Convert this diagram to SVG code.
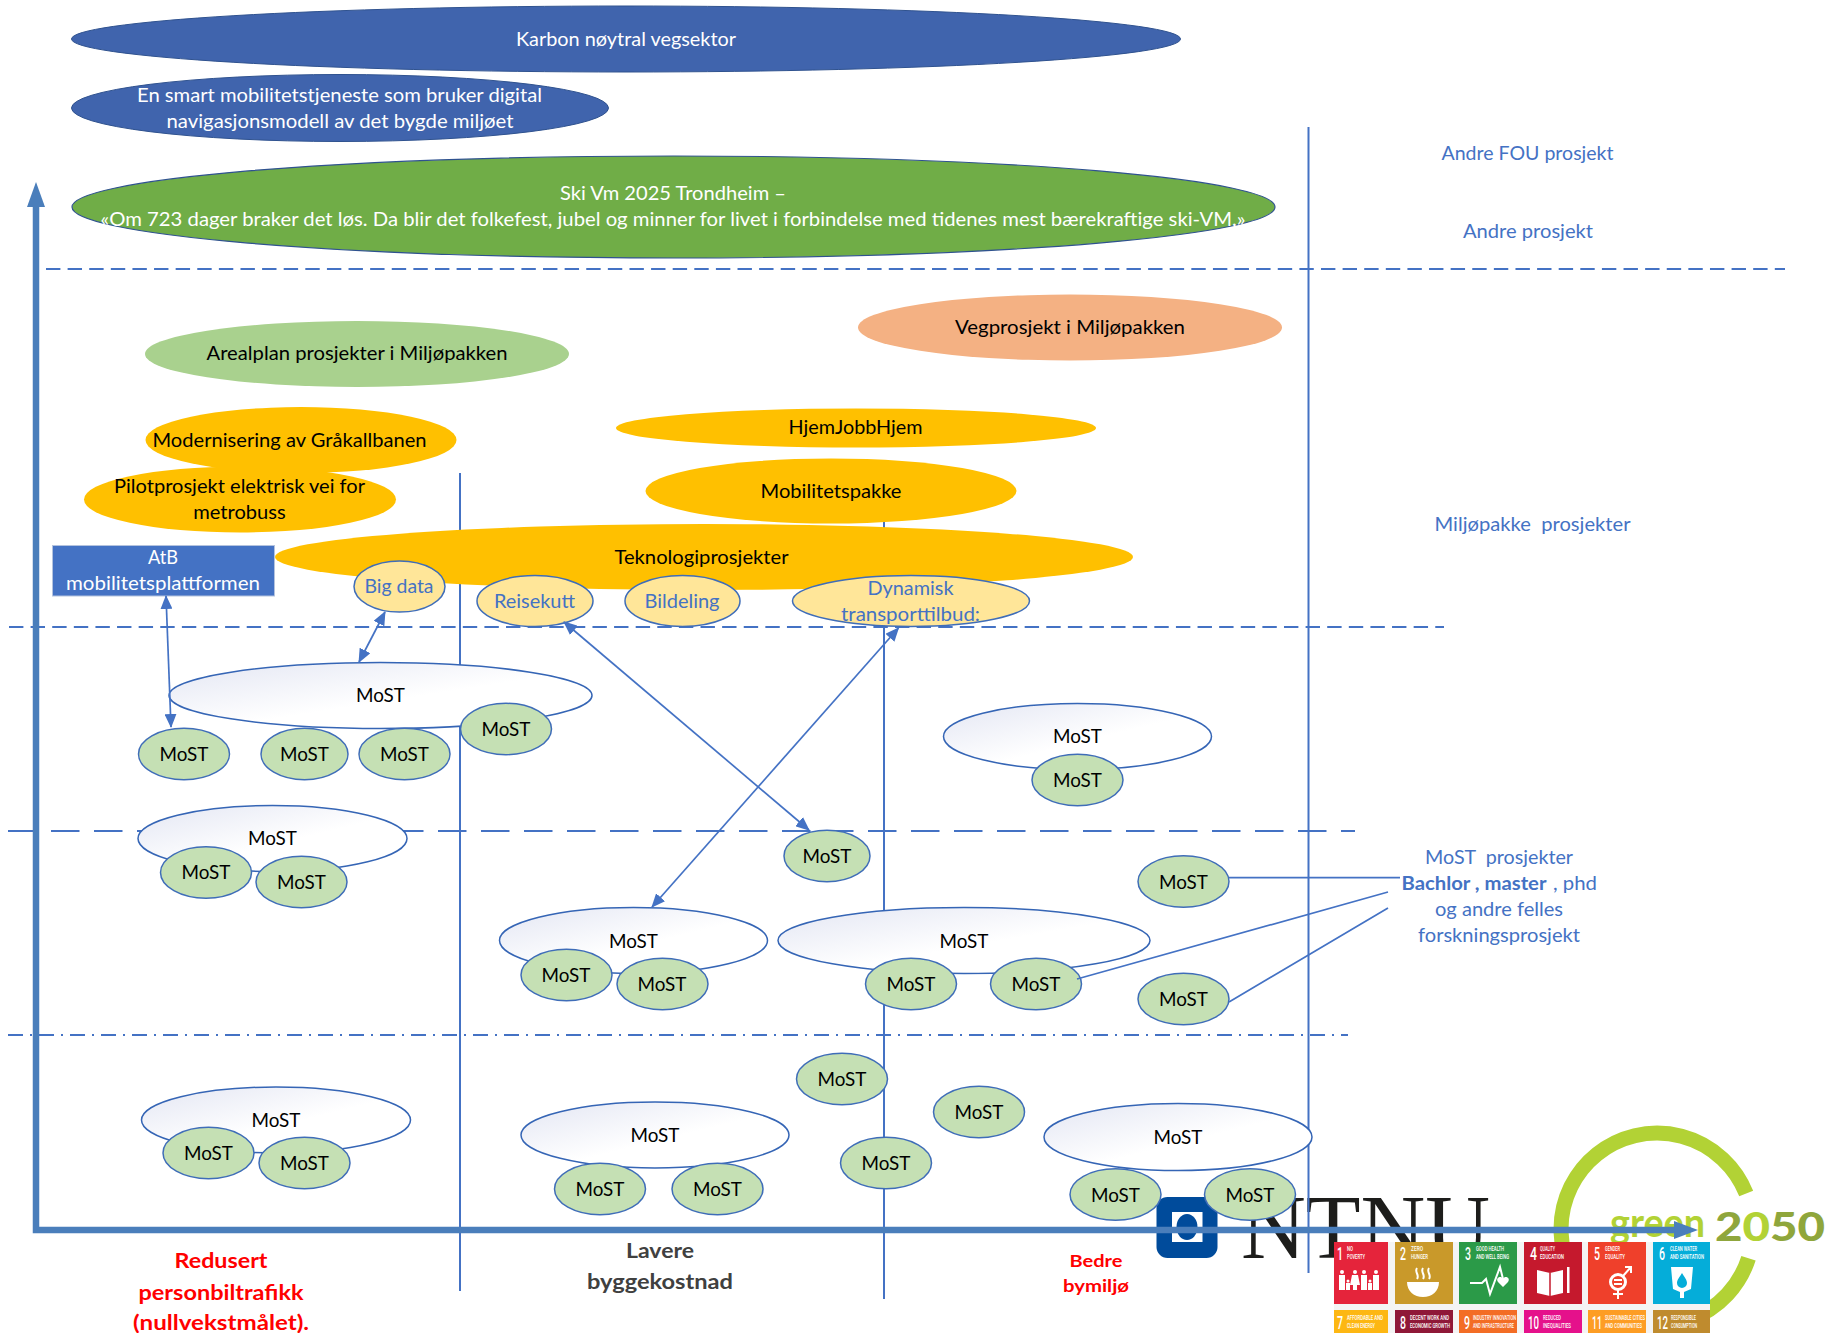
<svg xmlns="http://www.w3.org/2000/svg" width="1838" height="1333" viewBox="0 0 1838 1333">
<style>
text{font-family:Lato,"Noto Sans",sans-serif;font-size:19px;text-anchor:middle;fill:#000;white-space:pre}
.w{fill:#fff}.b{fill:#4472c4}.bb{fill:#4472c4;font-weight:700}
.r{fill:#f00;font-weight:700;font-size:21px}.g{fill:#404040;font-weight:700;font-size:21px}.r2{fill:#f00;font-weight:700;font-size:17.5px}
.grid{fill:none;stroke:#4472c4;stroke-width:2}
.d1{stroke-dasharray:14.4 7.21}.d2{stroke-dasharray:28.5 14.5}.d3{stroke-dasharray:15 7 2 7}
.white{fill:url(#wg);stroke:#3565b5;stroke-width:1.5}
.green{fill:#c5e0b4;stroke:#3f6db8;stroke-width:1.5}
.yel{fill:#ffe699;stroke:#3f6db8;stroke-width:1.5}
.or{fill:#ffc000}
.bl{fill:#4064ad;stroke:#2f528f;stroke-width:1}
.con{fill:none;stroke:#4472c4;stroke-width:1.7}
.two{marker-start:url(#ah);marker-end:url(#ah)}
.axis{fill:none;stroke:#4a7ebb;stroke-width:6.5}
.tn{font-family:Roboto,sans-serif;font-size:18px;fill:#fff;text-anchor:start;font-weight:500}
.tc{font-family:Roboto,sans-serif;font-size:6.5px;fill:#fff;text-anchor:start;font-weight:500}
.ic{fill:#fff}.il{fill:none;stroke:#fff;stroke-width:2}
</style>
<defs>
<linearGradient id="wg" x1="0" y1="0" x2="1" y2="1"><stop offset="0" stop-color="#e3e6f3"/><stop offset=".55" stop-color="#fff"/></linearGradient>
<marker id="ah" viewBox="0 0 14 12" refX="13" refY="6" markerWidth="14" markerHeight="12" markerUnits="userSpaceOnUse" orient="auto-start-reverse"><path d="M0 0L14 6L0 12Z" fill="#4472c4"/></marker>
</defs>
<rect width="1838" height="1333" fill="#fff"/>

<g id="logo-ntnu">
<rect x="1156.5" y="1197" width="61" height="61" rx="11" fill="#004b9b"/>
<rect x="1172" y="1212" width="30.5" height="30" fill="#fff"/>
<ellipse cx="1187" cy="1227" rx="10.5" ry="13" fill="#004b9b"/>
<text x="1241" y="1258" textLength="249" lengthAdjust="spacingAndGlyphs" style="font-family:'Liberation Serif',serif;font-size:92px;text-anchor:start;fill:#1d1d1b">NTNU</text>
</g>
<g id="logo-green2050">
<path d="M1746.2 1193.5A96 96 0 1 0 1748.5 1258.2" fill="none" stroke="#b2d235" stroke-width="15"/>
<text x="1610" y="1237" textLength="95" lengthAdjust="spacingAndGlyphs" style="font-size:40px;text-anchor:start;fill:#b2d235;font-weight:700">green</text>
<text x="1715" y="1241" textLength="110" lengthAdjust="spacingAndGlyphs" style="font-size:40px;text-anchor:start;font-weight:900;fill:#8fa63c">2<tspan fill="#b2d235">0</tspan>5<tspan fill="#8fa63c">0</tspan></text>
</g>
<g id="logo-sdg">
<rect x="1334" y="1242" width="376" height="91" fill="#f4f4f4"/>
<rect x="1334" y="1242" width="54" height="62" fill="#e5243b"/><rect x="1395" y="1242" width="58" height="62" fill="#c9992a"/><rect x="1459" y="1242" width="58" height="62" fill="#2b9a48"/><rect x="1524" y="1242" width="58" height="62" fill="#c5192d"/><rect x="1588" y="1242" width="58" height="62" fill="#ef402b"/><rect x="1653" y="1242" width="57" height="62" fill="#05add9"/>
<rect x="1334" y="1310" width="54" height="23" fill="#fdb713"/><rect x="1395" y="1310" width="58" height="23" fill="#8f1838"/><rect x="1459" y="1310" width="58" height="23" fill="#f36d25"/><rect x="1524" y="1310" width="58" height="23" fill="#e5118b"/><rect x="1588" y="1310" width="58" height="23" fill="#fd9d24"/><rect x="1653" y="1310" width="57" height="23" fill="#bf8b2e"/>
<text class="tn" x="1337" y="1260" textLength="6" lengthAdjust="spacingAndGlyphs">1</text><text class="tc" x="1347" y="1251" textLength="6" lengthAdjust="spacingAndGlyphs">NO</text><text class="tc" x="1347" y="1259" textLength="18" lengthAdjust="spacingAndGlyphs">POVERTY</text>
<text class="tn" x="1400" y="1260" textLength="6" lengthAdjust="spacingAndGlyphs">2</text><text class="tc" x="1411" y="1251" textLength="12" lengthAdjust="spacingAndGlyphs">ZERO</text><text class="tc" x="1411" y="1259" textLength="17" lengthAdjust="spacingAndGlyphs">HUNGER</text>
<text class="tn" x="1465" y="1260" textLength="6" lengthAdjust="spacingAndGlyphs">3</text><text class="tc" x="1476" y="1251" textLength="28" lengthAdjust="spacingAndGlyphs">GOOD HEALTH</text><text class="tc" x="1476" y="1259" textLength="33" lengthAdjust="spacingAndGlyphs">AND WELL BEING</text>
<text class="tn" x="1530" y="1260" textLength="7" lengthAdjust="spacingAndGlyphs">4</text><text class="tc" x="1540" y="1251" textLength="15" lengthAdjust="spacingAndGlyphs">QUALITY</text><text class="tc" x="1540" y="1259" textLength="24" lengthAdjust="spacingAndGlyphs">EDUCATION</text>
<text class="tn" x="1594" y="1260" textLength="6" lengthAdjust="spacingAndGlyphs">5</text><text class="tc" x="1605" y="1251" textLength="15" lengthAdjust="spacingAndGlyphs">GENDER</text><text class="tc" x="1605" y="1259" textLength="20" lengthAdjust="spacingAndGlyphs">EQUALITY</text>
<text class="tn" x="1659" y="1260" textLength="6" lengthAdjust="spacingAndGlyphs">6</text><text class="tc" x="1670" y="1251" textLength="27" lengthAdjust="spacingAndGlyphs">CLEAN WATER</text><text class="tc" x="1670" y="1259" textLength="34" lengthAdjust="spacingAndGlyphs">AND SANITATION</text>
<text class="tn" x="1337" y="1329" textLength="6" lengthAdjust="spacingAndGlyphs">7</text><text class="tc" x="1347" y="1320" textLength="36" lengthAdjust="spacingAndGlyphs">AFFORDABLE AND</text><text class="tc" x="1347" y="1328" textLength="28" lengthAdjust="spacingAndGlyphs">CLEAN ENERGY</text>
<text class="tn" x="1400" y="1329" textLength="6" lengthAdjust="spacingAndGlyphs">8</text><text class="tc" x="1410" y="1320" textLength="39" lengthAdjust="spacingAndGlyphs">DECENT WORK AND</text><text class="tc" x="1410" y="1328" textLength="40" lengthAdjust="spacingAndGlyphs">ECONOMIC GROWTH</text>
<text class="tn" x="1464" y="1329" textLength="6" lengthAdjust="spacingAndGlyphs">9</text><text class="tc" x="1473" y="1320" textLength="43" lengthAdjust="spacingAndGlyphs">INDUSTRY INNOVATION</text><text class="tc" x="1473" y="1328" textLength="41" lengthAdjust="spacingAndGlyphs">AND INFRASTRUCTURE</text>
<text class="tn" x="1528" y="1329" textLength="11" lengthAdjust="spacingAndGlyphs">10</text><text class="tc" x="1543" y="1320" textLength="18" lengthAdjust="spacingAndGlyphs">REDUCED</text><text class="tc" x="1543" y="1328" textLength="28" lengthAdjust="spacingAndGlyphs">INEQUALITIES</text>
<text class="tn" x="1592" y="1329" textLength="10" lengthAdjust="spacingAndGlyphs">11</text><text class="tc" x="1605" y="1320" textLength="40" lengthAdjust="spacingAndGlyphs">SUSTAINABLE CITIES</text><text class="tc" x="1605" y="1328" textLength="37" lengthAdjust="spacingAndGlyphs">AND COMMUNITIES</text>
<text class="tn" x="1657" y="1329" textLength="11" lengthAdjust="spacingAndGlyphs">12</text><text class="tc" x="1671" y="1320" textLength="25" lengthAdjust="spacingAndGlyphs">RESPONSIBLE</text><text class="tc" x="1671" y="1328" textLength="26" lengthAdjust="spacingAndGlyphs">CONSUMPTION</text>
<g class="ic"><circle cx="1342" cy="1272" r="2"/><rect x="1339" y="1275" width="6" height="15"/><circle cx="1348" cy="1281" r="1.5"/><rect x="1346" y="1283" width="4" height="7"/><circle cx="1355" cy="1272" r="2"/><path d="M1352 1275h6l2 10h-3v5h-4v-5h-3z"/><circle cx="1364" cy="1272" r="2"/><rect x="1361" y="1275" width="6" height="15"/><circle cx="1370" cy="1281" r="1.5"/><rect x="1368" y="1283" width="4" height="7"/><circle cx="1376" cy="1272" r="2"/><rect x="1373" y="1275" width="6" height="15"/></g>
<path class="ic" d="M1407 1282h32c0 9-7 15-16 15s-16-6-16-15z"/><path class="il" d="M1417 1268c-3 4 3 7 0 11M1423 1268c-3 4 3 7 0 11M1429 1268c-3 4 3 7 0 11"/>
<path class="il" d="M1470 1283H1482L1486 1279L1490 1294L1500 1267L1504 1283"/><path class="ic" d="M1503 1287l-5-5c-3-4 3-7 5-3c2-4 8-1 5 3z"/>
<path class="ic" d="M1537 1270l13 3l13-3v23l-13 3l-13-3z"/><path d="M1550 1273v23" stroke="#c5192d" stroke-width="1.5"/><rect class="ic" x="1567" y="1267" width="2.5" height="26"/>
<circle cx="1618" cy="1282" r="7.5" fill="none" stroke="#fff" stroke-width="3"/><path class="il" d="M1623 1276L1631 1267M1625 1267h6v6M1618 1290V1299M1613 1294h10"/><rect class="ic" x="1614" y="1279" width="8" height="2"/><rect class="ic" x="1614" y="1283" width="8" height="2"/>
<path class="ic" d="M1671 1267h22l-2 22l-7 3v6h-4v-6l-7-3z"/><path d="M1682 1273c3 5 5 7 5 10a5 5 0 0 1-10 0c0-3 2-5 5-10z" fill="#05add9"/>
</g>

<g id="guides">
<path class="grid" d="M460 473V1291M884 522V1299M1308.5 127V1273"/>
<path class="grid d1" d="M46 269H1785M9 627H1444"/>
<path class="grid d2" d="M8 831H1355"/>
<path class="grid d3" d="M8 1035H1348"/>
</g>

<g id="n-karbon"><ellipse class="bl" cx="626" cy="39" rx="554.5" ry="33"/><text class="w" x="626" y="46" textLength="220" lengthAdjust="spacingAndGlyphs">Karbon nøytral vegsektor</text></g>
<g id="n-smart"><ellipse class="bl" cx="340" cy="108" rx="268.5" ry="33.5"/><text class="w" x="339.5" y="102" textLength="405" lengthAdjust="spacingAndGlyphs">En smart mobilitetstjeneste som bruker digital</text><text class="w" x="340" y="128" textLength="347" lengthAdjust="spacingAndGlyphs">navigasjonsmodell av det bygde miljøet</text></g>
<g id="n-ski"><ellipse cx="673.5" cy="207" rx="601.5" ry="51" fill="#70ad47" stroke="#2f528f" stroke-width="1.2"/><text class="w" x="673" y="200" textLength="226" lengthAdjust="spacingAndGlyphs">Ski Vm 2025 Trondheim –</text><text class="w" x="673" y="226" textLength="1145" lengthAdjust="spacingAndGlyphs">«Om 723 dager braker det løs. Da blir det folkefest, jubel og minner for livet i forbindelse med tidenes mest bærekraftige ski-VM.»</text></g>
<g id="n-areal"><ellipse cx="357" cy="354" rx="212" ry="33" fill="#a9d18e"/><text x="357" y="360" textLength="301" lengthAdjust="spacingAndGlyphs">Arealplan prosjekter i Miljøpakken</text></g>
<g id="n-veg"><ellipse cx="1070" cy="327.5" rx="212" ry="33" fill="#f4b183"/><text x="1070" y="333.5" textLength="230" lengthAdjust="spacingAndGlyphs">Vegprosjekt i Miljøpakken</text></g>
<g id="n-hjem"><ellipse class="or" cx="856" cy="428" rx="240" ry="19.5"/><text x="855.5" y="433.5" textLength="134" lengthAdjust="spacingAndGlyphs">HjemJobbHjem</text></g>
<g id="n-mod"><ellipse class="or" cx="301" cy="440" rx="155.5" ry="33"/><text x="289.5" y="447" textLength="274" lengthAdjust="spacingAndGlyphs">Modernisering av Gråkallbanen</text></g>
<g id="n-pilot"><ellipse class="or" cx="240" cy="499.5" rx="156" ry="33"/><text x="239.5" y="493" textLength="251" lengthAdjust="spacingAndGlyphs">Pilotprosjekt elektrisk vei for</text><text x="239.5" y="519" textLength="92.5" lengthAdjust="spacingAndGlyphs">metrobuss</text></g>
<g id="n-mobil"><ellipse class="or" cx="831" cy="491" rx="185.5" ry="32.5"/><text x="831" y="497.5" textLength="141" lengthAdjust="spacingAndGlyphs">Mobilitetspakke</text></g>
<g id="n-tekno"><ellipse class="or" cx="704" cy="557" rx="429" ry="33"/><text x="701.5" y="564" textLength="174" lengthAdjust="spacingAndGlyphs">Teknologiprosjekter</text></g>
<g id="n-atb"><rect x="52.5" y="545.5" width="222" height="50.5" fill="#4472c4" stroke="#b4c3de"/><text class="w" x="163" y="564" textLength="30" lengthAdjust="spacingAndGlyphs">AtB</text><text class="w" x="163" y="590" textLength="194" lengthAdjust="spacingAndGlyphs">mobilitetsplattformen</text></g>
<g id="n-bigdata"><ellipse class="yel" cx="399.5" cy="586.5" rx="45.5" ry="25.5"/><text class="b" x="399" y="593" textLength="69" lengthAdjust="spacingAndGlyphs">Big data</text></g>
<g id="n-reise"><ellipse class="yel" cx="535" cy="601" rx="58" ry="25.5"/><text class="b" x="534.5" y="608" textLength="81" lengthAdjust="spacingAndGlyphs">Reisekutt</text></g>
<g id="n-bil"><ellipse class="yel" cx="682.5" cy="601" rx="57.5" ry="25.5"/><text class="b" x="682" y="608" textLength="75" lengthAdjust="spacingAndGlyphs">Bildeling</text></g>
<g id="n-dyn"><ellipse class="yel" cx="911" cy="601" rx="118.5" ry="25.5"/><text class="b" x="910.5" y="595" textLength="86" lengthAdjust="spacingAndGlyphs">Dynamisk</text><text class="b" x="910.5" y="621" textLength="139" lengthAdjust="spacingAndGlyphs">transporttilbud:</text></g>

<g id="m-a"><ellipse class="white" cx="380.5" cy="695.5" rx="211.5" ry="33"/><text x="380.5" y="702" textLength="49" lengthAdjust="spacingAndGlyphs">MoST</text></g>
<g id="m-a1"><ellipse class="green" cx="184" cy="754" rx="45.5" ry="25.7"/><text x="184" y="761" textLength="49" lengthAdjust="spacingAndGlyphs">MoST</text></g>
<g id="m-a2"><ellipse class="green" cx="304.5" cy="754" rx="43.5" ry="25.7"/><text x="304.5" y="761" textLength="49" lengthAdjust="spacingAndGlyphs">MoST</text></g>
<g id="m-a3"><ellipse class="green" cx="404.5" cy="754" rx="45.5" ry="25.7"/><text x="404.5" y="761" textLength="49" lengthAdjust="spacingAndGlyphs">MoST</text></g>
<g id="m-a4"><ellipse class="green" cx="506" cy="729" rx="45.5" ry="25.7"/><text x="506" y="736" textLength="49" lengthAdjust="spacingAndGlyphs">MoST</text></g>
<g id="m-b"><ellipse class="white" cx="1077.5" cy="736.5" rx="134" ry="33"/><text x="1077.5" y="743" textLength="49" lengthAdjust="spacingAndGlyphs">MoST</text></g>
<g id="m-b1"><ellipse class="green" cx="1077.5" cy="780" rx="45.5" ry="25.7"/><text x="1077.5" y="787" textLength="49" lengthAdjust="spacingAndGlyphs">MoST</text></g>
<g id="m-c"><ellipse class="white" cx="272.5" cy="838.5" rx="134.5" ry="33"/><text x="272.5" y="845" textLength="49" lengthAdjust="spacingAndGlyphs">MoST</text></g>
<g id="m-c1"><ellipse class="green" cx="206" cy="872.5" rx="45.5" ry="25.7"/><text x="206" y="879" textLength="49" lengthAdjust="spacingAndGlyphs">MoST</text></g>
<g id="m-c2"><ellipse class="green" cx="301.5" cy="882" rx="45.5" ry="25.7"/><text x="301.5" y="889" textLength="49" lengthAdjust="spacingAndGlyphs">MoST</text></g>
<g id="m-s1"><ellipse class="green" cx="827" cy="856" rx="43" ry="25.7"/><text x="827" y="863" textLength="49" lengthAdjust="spacingAndGlyphs">MoST</text></g>
<g id="m-d"><ellipse class="white" cx="633.5" cy="940.5" rx="134" ry="33"/><text x="633.5" y="948" textLength="49" lengthAdjust="spacingAndGlyphs">MoST</text></g>
<g id="m-d1"><ellipse class="green" cx="566.5" cy="975" rx="45.5" ry="25.7"/><text x="566" y="982" textLength="49" lengthAdjust="spacingAndGlyphs">MoST</text></g>
<g id="m-d2"><ellipse class="green" cx="662.5" cy="984" rx="45.5" ry="25.7"/><text x="662" y="991" textLength="49" lengthAdjust="spacingAndGlyphs">MoST</text></g>
<g id="m-e"><ellipse class="white" cx="964" cy="940.5" rx="186" ry="33"/><text x="964" y="948" textLength="49" lengthAdjust="spacingAndGlyphs">MoST</text></g>
<g id="m-e1"><ellipse class="green" cx="911" cy="984" rx="45.5" ry="25.7"/><text x="911" y="991" textLength="49" lengthAdjust="spacingAndGlyphs">MoST</text></g>
<g id="m-e2"><ellipse class="green" cx="1036" cy="984" rx="45.5" ry="25.7"/><text x="1036" y="991" textLength="49" lengthAdjust="spacingAndGlyphs">MoST</text></g>
<g id="m-s2"><ellipse class="green" cx="1183.5" cy="881.5" rx="45.5" ry="25.7"/><text x="1183.5" y="888.5" textLength="49" lengthAdjust="spacingAndGlyphs">MoST</text></g>
<g id="m-s3"><ellipse class="green" cx="1183.5" cy="999" rx="45.5" ry="25.7"/><text x="1183.5" y="1006" textLength="49" lengthAdjust="spacingAndGlyphs">MoST</text></g>
<g id="m-s4"><ellipse class="green" cx="842" cy="1079" rx="45.5" ry="25.7"/><text x="842" y="1086" textLength="49" lengthAdjust="spacingAndGlyphs">MoST</text></g>
<g id="m-s5"><ellipse class="green" cx="979" cy="1112" rx="45.5" ry="25.7"/><text x="979" y="1119" textLength="49" lengthAdjust="spacingAndGlyphs">MoST</text></g>
<g id="m-s6"><ellipse class="green" cx="886" cy="1163" rx="45.5" ry="25.7"/><text x="886" y="1170" textLength="49" lengthAdjust="spacingAndGlyphs">MoST</text></g>
<g id="m-f"><ellipse class="white" cx="276" cy="1120" rx="134.5" ry="33"/><text x="276" y="1127" textLength="49" lengthAdjust="spacingAndGlyphs">MoST</text></g>
<g id="m-f1"><ellipse class="green" cx="208.5" cy="1153" rx="45.5" ry="25.7"/><text x="208.5" y="1160" textLength="49" lengthAdjust="spacingAndGlyphs">MoST</text></g>
<g id="m-f2"><ellipse class="green" cx="304.5" cy="1163" rx="45.5" ry="25.7"/><text x="304.5" y="1170" textLength="49" lengthAdjust="spacingAndGlyphs">MoST</text></g>
<g id="m-g"><ellipse class="white" cx="655" cy="1135" rx="134" ry="33"/><text x="655" y="1142" textLength="49" lengthAdjust="spacingAndGlyphs">MoST</text></g>
<g id="m-g1"><ellipse class="green" cx="600" cy="1189" rx="45.5" ry="25.7"/><text x="600" y="1196" textLength="49" lengthAdjust="spacingAndGlyphs">MoST</text></g>
<g id="m-g2"><ellipse class="green" cx="717.5" cy="1189" rx="45.5" ry="25.7"/><text x="717.5" y="1196" textLength="49" lengthAdjust="spacingAndGlyphs">MoST</text></g>
<g id="m-h"><ellipse class="white" cx="1178" cy="1137" rx="134" ry="33.5"/><text x="1178" y="1144" textLength="49" lengthAdjust="spacingAndGlyphs">MoST</text></g>
<g id="m-h1"><ellipse class="green" cx="1115.5" cy="1194.5" rx="45.5" ry="25.7"/><text x="1115.5" y="1201.5" textLength="49" lengthAdjust="spacingAndGlyphs">MoST</text></g>
<g id="m-h2"><ellipse class="green" cx="1250" cy="1194.5" rx="45.5" ry="25.7"/><text x="1250" y="1201.5" textLength="49" lengthAdjust="spacingAndGlyphs">MoST</text></g>

<g id="connectors">
<path class="axis" d="M36 207V1230H1676"/>
<path d="M36 182L45 207H27Z" fill="#4a7ebb"/>
<path d="M1698 1230L1674 1221V1239Z" fill="#4a7ebb"/>
<path class="con two" d="M166 596L171 727"/>
<path class="con two" d="M385 612L359 662"/>
<path class="con two" d="M564 622L809 830"/>
<path class="con two" d="M898.5 628L652 907"/>
<path class="con" d="M1229 877.7H1400M1077 979L1388 892M1229 1002L1388 908"/>
</g>

<g id="labels">
<text class="b" x="1527.5" y="160" textLength="172" lengthAdjust="spacingAndGlyphs">Andre FOU prosjekt</text>
<text class="b" x="1528" y="237.5" textLength="130" lengthAdjust="spacingAndGlyphs">Andre prosjekt</text>
<text class="b" x="1532.5" y="530.5" textLength="196" lengthAdjust="spacingAndGlyphs">Miljøpakke  prosjekter</text>
<text class="b" x="1499" y="864" textLength="148" lengthAdjust="spacingAndGlyphs">MoST  prosjekter</text>
<text class="bb" x="1401.5" y="890" style="text-anchor:start" textLength="145" lengthAdjust="spacingAndGlyphs">Bachlor , master</text>
<text class="b" x="1553" y="890" style="text-anchor:start" textLength="44" lengthAdjust="spacingAndGlyphs">, phd</text>
<text class="b" x="1499" y="916" textLength="128" lengthAdjust="spacingAndGlyphs">og andre felles</text>
<text class="b" x="1499" y="942" textLength="162" lengthAdjust="spacingAndGlyphs">forskningsprosjekt</text>
<text class="r" x="221" y="1268" textLength="93" lengthAdjust="spacingAndGlyphs">Redusert</text>
<text class="r" x="221" y="1300" textLength="165" lengthAdjust="spacingAndGlyphs">personbiltrafikk</text>
<text class="r" x="221" y="1330" textLength="176" lengthAdjust="spacingAndGlyphs">(nullvekstmålet).</text>
<text class="g" x="660" y="1258" textLength="68" lengthAdjust="spacingAndGlyphs">Lavere</text>
<text class="g" x="660" y="1289" textLength="146" lengthAdjust="spacingAndGlyphs">byggekostnad</text>
<text class="r2" x="1096" y="1267" textLength="53" lengthAdjust="spacingAndGlyphs">Bedre</text>
<text class="r2" x="1096" y="1292" textLength="66" lengthAdjust="spacingAndGlyphs">bymiljø</text>
</g>
</svg>
